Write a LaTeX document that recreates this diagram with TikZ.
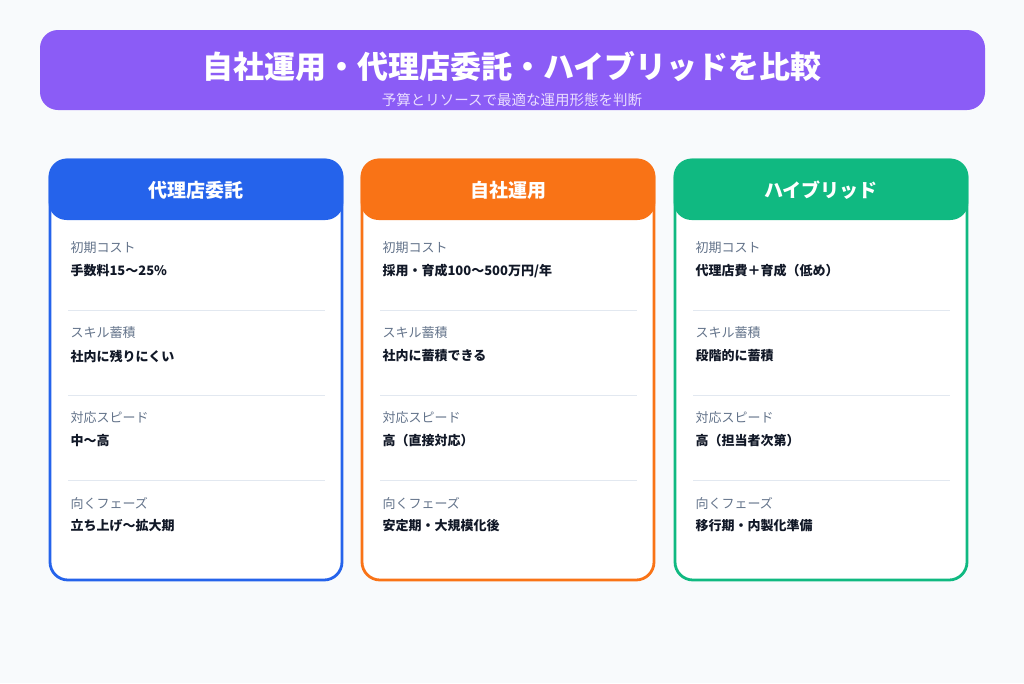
\documentclass[tikz,border=0pt]{standalone}
\usepackage{fontspec}
\setmainfont{Noto Sans CJK JP}
\definecolor{bgc}{HTML}{F8FAFC}
\definecolor{headc}{HTML}{8B5CF6}
\definecolor{subc}{HTML}{E9DDFF}
\definecolor{bluec}{HTML}{2563EB}
\definecolor{orangec}{HTML}{F97316}
\definecolor{greenc}{HTML}{10B981}
\definecolor{labc}{HTML}{64748B}
\definecolor{valc}{HTML}{111827}
\definecolor{linec}{HTML}{E2E8F0}
\begin{document}
\begin{tikzpicture}[x=1pt, y=-1pt]
  \fill[bgc] (0,0) rectangle (1024,683);
  \useasboundingbox (0,0) rectangle (1024,683);
  % title banner
  \fill[headc, rounded corners=18pt] (40,30) rectangle (985,110);
  \node[white, font=\bfseries\fontsize{31}{31}\selectfont] (title) at (512,67) {自社運用・代理店委託・ハイブリッドを比較};
  \node[subc, font=\fontsize{14.5}{15}\selectfont] (sub) at (512,100) {予算とリソースで最適な運用形態を判断};
  % cards
  \foreach \x/\c/\t/\a/\b/\s/\p in {50/bluec/代理店委託/手数料15〜25\%/社内に残りにくい/中〜高/立ち上げ〜拡大期,
      362/orangec/自社運用/{採用・育成100〜500万円/年}/社内に蓄積できる/高（直接対応）/安定期・大規模化後,
      675/greenc/ハイブリッド/代理店費＋育成（低め）/段階的に蓄積/高（担当者次第）/移行期・内製化準備}
  {
    \fill[white, rounded corners=18pt] (\x,160) rectangle (\x+292,580);
    \draw[\c, line width=2.8pt, rounded corners=18pt] (\x,160) rectangle (\x+292,580);
    \fill[\c, rounded corners=18pt] (\x-1.4,158.6) rectangle (\x+293.4,220);
    \node[white, font=\bfseries\fontsize{19}{19}\selectfont] at (\x+146,190) {\t};
    \foreach \y in {310,395,480}
      \draw[linec, line width=1pt] (\x+18,\y) -- (\x+275,\y);
    \foreach \y/\l/\v in {248/初期コスト/\a, 333/スキル蓄積/\b, 418/対応スピード/\s, 503/向くフェーズ/\p}
    {
      \node[labc, anchor=west, font=\fontsize{13}{13}\selectfont] at (\x+17,\y) {\l};
      \node[valc, anchor=west, font=\bfseries\fontsize{13}{13}\selectfont] at (\x+17,\y+23) {\v};
    }
  }
\end{tikzpicture}
\end{document}
